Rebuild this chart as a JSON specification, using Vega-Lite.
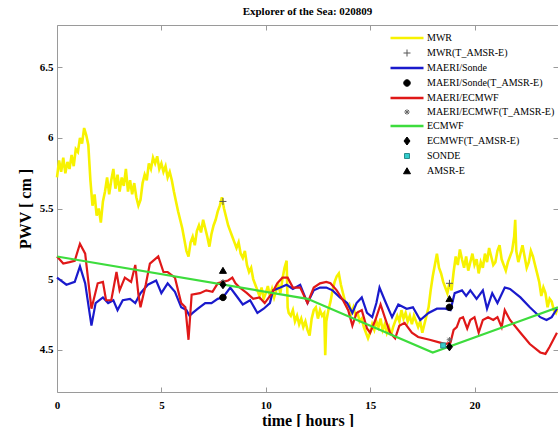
{
"$schema": "https://vega.github.io/schema/vega-lite/v6.json",
"width": 501,
"height": 367,
"autosize": {"type": "none"},
"padding": {"left": 57, "top": 25, "right": 0, "bottom": 35},
"background": "white",
"title": {"text": "Explorer of the Sea: 020809", "font": "Liberation Serif", "fontSize": 11, "fontWeight": "bold", "color": "#000", "offset": 8, "anchor": "middle", "frame": "group"},
"config": {
  "view": {"stroke": null},
  "legend": {"padding": 0, "symbolSize": 100, "labelFont": "Liberation Serif", "labelFontSize": 10, "labelColor": "#000", "labelOffset": 15, "rowPadding": 4, "labelLimit": 200}
},
"data": {"values": [
{"s":"MWR","t":0.0,"v":5.72},{"s":"MWR","t":0.1,"v":5.84},{"s":"MWR","t":0.2,"v":5.76},{"s":"MWR","t":0.3,"v":5.86},{"s":"MWR","t":0.4,"v":5.75},{"s":"MWR","t":0.5,"v":5.83},{"s":"MWR","t":0.6,"v":5.78},{"s":"MWR","t":0.7,"v":5.88},{"s":"MWR","t":0.8,"v":5.8},{"s":"MWR","t":0.9,"v":5.92},
{"s":"MWR","t":1.0,"v":5.9},{"s":"MWR","t":1.1,"v":6.0},{"s":"MWR","t":1.2,"v":5.96},{"s":"MWR","t":1.3,"v":6.07},{"s":"MWR","t":1.4,"v":6.02},{"s":"MWR","t":1.5,"v":5.95},{"s":"MWR","t":1.6,"v":5.7},{"s":"MWR","t":1.7,"v":5.52},{"s":"MWR","t":1.8,"v":5.6},{"s":"MWR","t":1.9,"v":5.45},
{"s":"MWR","t":2.0,"v":5.5},{"s":"MWR","t":2.1,"v":5.4},{"s":"MWR","t":2.2,"v":5.55},{"s":"MWR","t":2.3,"v":5.62},{"s":"MWR","t":2.4,"v":5.72},{"s":"MWR","t":2.5,"v":5.6},{"s":"MWR","t":2.6,"v":5.7},{"s":"MWR","t":2.7,"v":5.78},{"s":"MWR","t":2.8,"v":5.64},{"s":"MWR","t":2.9,"v":5.74},
{"s":"MWR","t":3.0,"v":5.62},{"s":"MWR","t":3.1,"v":5.72},{"s":"MWR","t":3.2,"v":5.66},{"s":"MWR","t":3.3,"v":5.78},{"s":"MWR","t":3.4,"v":5.62},{"s":"MWR","t":3.5,"v":5.7},{"s":"MWR","t":3.6,"v":5.6},{"s":"MWR","t":3.7,"v":5.68},{"s":"MWR","t":3.8,"v":5.58},{"s":"MWR","t":3.9,"v":5.52},
{"s":"MWR","t":4.0,"v":5.56},{"s":"MWR","t":4.1,"v":5.68},{"s":"MWR","t":4.2,"v":5.74},{"s":"MWR","t":4.3,"v":5.7},{"s":"MWR","t":4.4,"v":5.82},{"s":"MWR","t":4.5,"v":5.78},{"s":"MWR","t":4.6,"v":5.86},{"s":"MWR","t":4.7,"v":5.82},{"s":"MWR","t":4.8,"v":5.87},{"s":"MWR","t":4.9,"v":5.78},
{"s":"MWR","t":5.0,"v":5.82},{"s":"MWR","t":5.1,"v":5.76},{"s":"MWR","t":5.2,"v":5.8},{"s":"MWR","t":5.3,"v":5.72},{"s":"MWR","t":5.4,"v":5.76},{"s":"MWR","t":5.5,"v":5.7},{"s":"MWR","t":5.6,"v":5.62},{"s":"MWR","t":5.7,"v":5.55},{"s":"MWR","t":5.8,"v":5.48},{"s":"MWR","t":5.9,"v":5.42},
{"s":"MWR","t":6.0,"v":5.36},{"s":"MWR","t":6.1,"v":5.28},{"s":"MWR","t":6.2,"v":5.2},{"s":"MWR","t":6.3,"v":5.16},{"s":"MWR","t":6.4,"v":5.26},{"s":"MWR","t":6.5,"v":5.3},{"s":"MWR","t":6.6,"v":5.24},{"s":"MWR","t":6.7,"v":5.34},{"s":"MWR","t":6.8,"v":5.38},{"s":"MWR","t":6.9,"v":5.33},
{"s":"MWR","t":7.0,"v":5.42},{"s":"MWR","t":7.1,"v":5.36},{"s":"MWR","t":7.2,"v":5.3},{"s":"MWR","t":7.3,"v":5.23},{"s":"MWR","t":7.4,"v":5.32},{"s":"MWR","t":7.5,"v":5.38},{"s":"MWR","t":7.6,"v":5.42},{"s":"MWR","t":7.7,"v":5.48},{"s":"MWR","t":7.8,"v":5.52},{"s":"MWR","t":7.9,"v":5.58},
{"s":"MWR","t":8.0,"v":5.5},{"s":"MWR","t":8.1,"v":5.44},{"s":"MWR","t":8.2,"v":5.38},{"s":"MWR","t":8.3,"v":5.34},{"s":"MWR","t":8.4,"v":5.3},{"s":"MWR","t":8.5,"v":5.26},{"s":"MWR","t":8.6,"v":5.22},{"s":"MWR","t":8.7,"v":5.26},{"s":"MWR","t":8.8,"v":5.18},{"s":"MWR","t":8.9,"v":5.15},
{"s":"MWR","t":9.0,"v":5.2},{"s":"MWR","t":9.1,"v":5.1},{"s":"MWR","t":9.2,"v":5.05},{"s":"MWR","t":9.3,"v":5.08},{"s":"MWR","t":9.4,"v":5.0},{"s":"MWR","t":9.5,"v":4.96},{"s":"MWR","t":9.6,"v":4.92},{"s":"MWR","t":9.7,"v":4.88},{"s":"MWR","t":9.8,"v":4.94},{"s":"MWR","t":9.9,"v":4.86},
{"s":"MWR","t":10.0,"v":4.9},{"s":"MWR","t":10.1,"v":4.95},{"s":"MWR","t":10.2,"v":4.88},{"s":"MWR","t":10.3,"v":4.93},{"s":"MWR","t":10.4,"v":4.87},{"s":"MWR","t":10.5,"v":4.92},{"s":"MWR","t":10.6,"v":4.96},{"s":"MWR","t":10.7,"v":4.9},{"s":"MWR","t":10.8,"v":5.0},{"s":"MWR","t":10.9,"v":5.08},
{"s":"MWR","t":11.0,"v":5.13},{"s":"MWR","t":11.05,"v":4.8},{"s":"MWR","t":11.1,"v":4.76},{"s":"MWR","t":11.2,"v":4.74},{"s":"MWR","t":11.3,"v":4.78},{"s":"MWR","t":11.4,"v":4.7},{"s":"MWR","t":11.5,"v":4.74},{"s":"MWR","t":11.6,"v":4.68},{"s":"MWR","t":11.7,"v":4.72},{"s":"MWR","t":11.8,"v":4.66},{"s":"MWR","t":11.9,"v":4.7},
{"s":"MWR","t":12.0,"v":4.64},{"s":"MWR","t":12.1,"v":4.6},{"s":"MWR","t":12.2,"v":4.72},{"s":"MWR","t":12.3,"v":4.78},{"s":"MWR","t":12.4,"v":4.8},{"s":"MWR","t":12.5,"v":4.72},{"s":"MWR","t":12.6,"v":4.78},{"s":"MWR","t":12.7,"v":4.74},{"s":"MWR","t":12.8,"v":4.76},{"s":"MWR","t":12.85,"v":4.46},{"s":"MWR","t":12.9,"v":4.7},
{"s":"MWR","t":13.0,"v":4.78},{"s":"MWR","t":13.1,"v":4.84},{"s":"MWR","t":13.2,"v":4.92},{"s":"MWR","t":13.3,"v":4.98},{"s":"MWR","t":13.4,"v":5.02},{"s":"MWR","t":13.5,"v":5.04},{"s":"MWR","t":13.6,"v":4.96},{"s":"MWR","t":13.7,"v":4.9},{"s":"MWR","t":13.8,"v":4.84},{"s":"MWR","t":13.9,"v":4.8},
{"s":"MWR","t":14.0,"v":4.82},{"s":"MWR","t":14.1,"v":4.76},{"s":"MWR","t":14.2,"v":4.8},{"s":"MWR","t":14.3,"v":4.74},{"s":"MWR","t":14.4,"v":4.76},{"s":"MWR","t":14.5,"v":4.7},{"s":"MWR","t":14.6,"v":4.72},{"s":"MWR","t":14.7,"v":4.66},{"s":"MWR","t":14.8,"v":4.62},{"s":"MWR","t":14.9,"v":4.58},
{"s":"MWR","t":15.0,"v":4.62},{"s":"MWR","t":15.1,"v":4.68},{"s":"MWR","t":15.2,"v":4.64},{"s":"MWR","t":15.3,"v":4.7},{"s":"MWR","t":15.4,"v":4.66},{"s":"MWR","t":15.5,"v":4.72},{"s":"MWR","t":15.6,"v":4.64},{"s":"MWR","t":15.7,"v":4.68},{"s":"MWR","t":15.8,"v":4.62},{"s":"MWR","t":15.9,"v":4.66},
{"s":"MWR","t":16.0,"v":4.6},{"s":"MWR","t":16.1,"v":4.66},{"s":"MWR","t":16.2,"v":4.7},{"s":"MWR","t":16.3,"v":4.74},{"s":"MWR","t":16.4,"v":4.7},{"s":"MWR","t":16.5,"v":4.78},{"s":"MWR","t":16.6,"v":4.72},{"s":"MWR","t":16.7,"v":4.76},{"s":"MWR","t":16.8,"v":4.7},{"s":"MWR","t":16.9,"v":4.74},
{"s":"MWR","t":17.0,"v":4.68},{"s":"MWR","t":17.1,"v":4.74},{"s":"MWR","t":17.2,"v":4.7},{"s":"MWR","t":17.3,"v":4.66},{"s":"MWR","t":17.4,"v":4.7},{"s":"MWR","t":17.5,"v":4.62},{"s":"MWR","t":17.6,"v":4.68},{"s":"MWR","t":17.7,"v":4.74},{"s":"MWR","t":17.8,"v":4.8},{"s":"MWR","t":17.9,"v":4.92},
{"s":"MWR","t":18.0,"v":5.02},{"s":"MWR","t":18.1,"v":5.1},{"s":"MWR","t":18.2,"v":5.18},{"s":"MWR","t":18.3,"v":5.08},{"s":"MWR","t":18.4,"v":5.04},{"s":"MWR","t":18.5,"v":4.98},{"s":"MWR","t":18.6,"v":4.94},{"s":"MWR","t":18.7,"v":4.9},{"s":"MWR","t":18.8,"v":4.97},{"s":"MWR","t":18.9,"v":4.92},
{"s":"MWR","t":19.0,"v":5.05},{"s":"MWR","t":19.1,"v":5.16},{"s":"MWR","t":19.2,"v":5.1},{"s":"MWR","t":19.3,"v":5.21},{"s":"MWR","t":19.4,"v":5.14},{"s":"MWR","t":19.5,"v":5.08},{"s":"MWR","t":19.6,"v":5.16},{"s":"MWR","t":19.7,"v":5.06},{"s":"MWR","t":19.8,"v":5.12},{"s":"MWR","t":19.9,"v":5.18},
{"s":"MWR","t":20.0,"v":5.1},{"s":"MWR","t":20.1,"v":5.14},{"s":"MWR","t":20.2,"v":5.04},{"s":"MWR","t":20.3,"v":5.12},{"s":"MWR","t":20.4,"v":5.08},{"s":"MWR","t":20.5,"v":5.18},{"s":"MWR","t":20.6,"v":5.12},{"s":"MWR","t":20.7,"v":5.22},{"s":"MWR","t":20.8,"v":5.16},{"s":"MWR","t":20.9,"v":5.1},
{"s":"MWR","t":21.0,"v":5.12},{"s":"MWR","t":21.1,"v":5.2},{"s":"MWR","t":21.2,"v":5.24},{"s":"MWR","t":21.3,"v":5.14},{"s":"MWR","t":21.4,"v":5.1},{"s":"MWR","t":21.5,"v":5.06},{"s":"MWR","t":21.6,"v":5.12},{"s":"MWR","t":21.7,"v":5.16},{"s":"MWR","t":21.8,"v":5.2},{"s":"MWR","t":21.9,"v":5.3},
{"s":"MWR","t":21.95,"v":5.42},{"s":"MWR","t":22.0,"v":5.2},{"s":"MWR","t":22.1,"v":5.12},{"s":"MWR","t":22.2,"v":5.18},{"s":"MWR","t":22.3,"v":5.24},{"s":"MWR","t":22.4,"v":5.16},{"s":"MWR","t":22.5,"v":5.08},{"s":"MWR","t":22.6,"v":5.12},{"s":"MWR","t":22.7,"v":5.2},{"s":"MWR","t":22.8,"v":5.16},{"s":"MWR","t":22.9,"v":5.1},
{"s":"MWR","t":23.0,"v":5.04},{"s":"MWR","t":23.1,"v":4.98},{"s":"MWR","t":23.2,"v":4.88},{"s":"MWR","t":23.3,"v":4.94},{"s":"MWR","t":23.4,"v":4.9},{"s":"MWR","t":23.5,"v":4.8},{"s":"MWR","t":23.6,"v":4.86},{"s":"MWR","t":23.7,"v":4.84},{"s":"MWR","t":23.8,"v":4.78},{"s":"MWR","t":23.9,"v":4.76},{"s":"MWR","t":24.0,"v":4.8},

{"s":"MAERI/Sonde","t":0.0,"v":5.01},{"s":"MAERI/Sonde","t":0.45,"v":4.96},{"s":"MAERI/Sonde","t":0.85,"v":4.98},{"s":"MAERI/Sonde","t":1.1,"v":5.09},{"s":"MAERI/Sonde","t":1.35,"v":4.97},{"s":"MAERI/Sonde","t":1.65,"v":4.67},{"s":"MAERI/Sonde","t":1.85,"v":4.83},{"s":"MAERI/Sonde","t":2.2,"v":4.87},{"s":"MAERI/Sonde","t":2.45,"v":4.83},{"s":"MAERI/Sonde","t":2.7,"v":4.85},
{"s":"MAERI/Sonde","t":2.9,"v":4.78},{"s":"MAERI/Sonde","t":3.15,"v":4.85},{"s":"MAERI/Sonde","t":3.5,"v":4.86},{"s":"MAERI/Sonde","t":3.75,"v":4.83},{"s":"MAERI/Sonde","t":4.0,"v":4.9},{"s":"MAERI/Sonde","t":4.35,"v":4.96},{"s":"MAERI/Sonde","t":4.75,"v":4.99},{"s":"MAERI/Sonde","t":5.0,"v":4.9},{"s":"MAERI/Sonde","t":5.3,"v":4.97},{"s":"MAERI/Sonde","t":5.65,"v":4.91},
{"s":"MAERI/Sonde","t":5.95,"v":4.8},{"s":"MAERI/Sonde","t":6.2,"v":4.78},{"s":"MAERI/Sonde","t":6.35,"v":4.74},{"s":"MAERI/Sonde","t":6.5,"v":4.76},{"s":"MAERI/Sonde","t":6.75,"v":4.79},{"s":"MAERI/Sonde","t":7.1,"v":4.83},{"s":"MAERI/Sonde","t":7.4,"v":4.83},{"s":"MAERI/Sonde","t":7.7,"v":4.86},{"s":"MAERI/Sonde","t":7.95,"v":4.87},{"s":"MAERI/Sonde","t":8.3,"v":4.94},
{"s":"MAERI/Sonde","t":8.6,"v":4.88},{"s":"MAERI/Sonde","t":8.9,"v":4.82},{"s":"MAERI/Sonde","t":9.25,"v":4.85},{"s":"MAERI/Sonde","t":9.6,"v":4.76},{"s":"MAERI/Sonde","t":9.9,"v":4.79},{"s":"MAERI/Sonde","t":10.2,"v":4.83},{"s":"MAERI/Sonde","t":10.35,"v":4.92},{"s":"MAERI/Sonde","t":10.7,"v":4.94},{"s":"MAERI/Sonde","t":11.0,"v":4.96},{"s":"MAERI/Sonde","t":11.3,"v":4.93},
{"s":"MAERI/Sonde","t":11.65,"v":4.96},{"s":"MAERI/Sonde","t":12.0,"v":4.83},{"s":"MAERI/Sonde","t":12.3,"v":4.92},{"s":"MAERI/Sonde","t":12.6,"v":4.94},{"s":"MAERI/Sonde","t":12.9,"v":4.94},{"s":"MAERI/Sonde","t":13.2,"v":4.92},{"s":"MAERI/Sonde","t":13.55,"v":4.87},{"s":"MAERI/Sonde","t":13.9,"v":4.83},{"s":"MAERI/Sonde","t":14.15,"v":4.76},{"s":"MAERI/Sonde","t":14.35,"v":4.83},
{"s":"MAERI/Sonde","t":14.6,"v":4.87},{"s":"MAERI/Sonde","t":14.85,"v":4.76},{"s":"MAERI/Sonde","t":15.1,"v":4.73},{"s":"MAERI/Sonde","t":15.3,"v":4.83},{"s":"MAERI/Sonde","t":15.45,"v":4.94},{"s":"MAERI/Sonde","t":15.7,"v":4.85},{"s":"MAERI/Sonde","t":16.05,"v":4.73},{"s":"MAERI/Sonde","t":16.35,"v":4.82},{"s":"MAERI/Sonde","t":16.75,"v":4.79},{"s":"MAERI/Sonde","t":17.05,"v":4.8},
{"s":"MAERI/Sonde","t":17.4,"v":4.71},{"s":"MAERI/Sonde","t":17.8,"v":4.76},{"s":"MAERI/Sonde","t":18.2,"v":4.79},{"s":"MAERI/Sonde","t":18.6,"v":4.79},{"s":"MAERI/Sonde","t":18.85,"v":4.78},{"s":"MAERI/Sonde","t":19.05,"v":4.9},{"s":"MAERI/Sonde","t":19.4,"v":4.92},{"s":"MAERI/Sonde","t":19.6,"v":4.88},{"s":"MAERI/Sonde","t":19.8,"v":4.92},{"s":"MAERI/Sonde","t":20.1,"v":4.86},
{"s":"MAERI/Sonde","t":20.4,"v":4.92},{"s":"MAERI/Sonde","t":20.6,"v":4.79},{"s":"MAERI/Sonde","t":20.85,"v":4.9},{"s":"MAERI/Sonde","t":21.1,"v":4.83},{"s":"MAERI/Sonde","t":21.45,"v":4.94},{"s":"MAERI/Sonde","t":21.7,"v":4.93},{"s":"MAERI/Sonde","t":22.2,"v":4.87},{"s":"MAERI/Sonde","t":22.65,"v":4.8},{"s":"MAERI/Sonde","t":23.15,"v":4.73},{"s":"MAERI/Sonde","t":23.45,"v":4.71},
{"s":"MAERI/Sonde","t":23.7,"v":4.73},{"s":"MAERI/Sonde","t":23.95,"v":4.79},

{"s":"MAERI/ECMWF","t":0.0,"v":5.16},{"s":"MAERI/ECMWF","t":0.3,"v":5.11},{"s":"MAERI/ECMWF","t":0.6,"v":5.12},{"s":"MAERI/ECMWF","t":0.85,"v":5.13},{"s":"MAERI/ECMWF","t":1.1,"v":5.25},{"s":"MAERI/ECMWF","t":1.35,"v":5.18},{"s":"MAERI/ECMWF","t":1.65,"v":4.79},{"s":"MAERI/ECMWF","t":1.95,"v":4.97},{"s":"MAERI/ECMWF","t":2.2,"v":4.98},{"s":"MAERI/ECMWF","t":2.35,"v":4.85},
{"s":"MAERI/ECMWF","t":2.6,"v":4.85},{"s":"MAERI/ECMWF","t":2.85,"v":5.05},{"s":"MAERI/ECMWF","t":3.0,"v":4.92},{"s":"MAERI/ECMWF","t":3.25,"v":5.01},{"s":"MAERI/ECMWF","t":3.55,"v":4.98},{"s":"MAERI/ECMWF","t":3.75,"v":5.1},{"s":"MAERI/ECMWF","t":3.9,"v":4.89},{"s":"MAERI/ECMWF","t":4.0,"v":4.8},{"s":"MAERI/ECMWF","t":4.25,"v":4.96},{"s":"MAERI/ECMWF","t":4.45,"v":5.11},
{"s":"MAERI/ECMWF","t":4.85,"v":5.16},{"s":"MAERI/ECMWF","t":5.1,"v":5.05},{"s":"MAERI/ECMWF","t":5.3,"v":5.05},{"s":"MAERI/ECMWF","t":5.65,"v":5.01},{"s":"MAERI/ECMWF","t":5.95,"v":4.83},{"s":"MAERI/ECMWF","t":6.15,"v":4.8},{"s":"MAERI/ECMWF","t":6.3,"v":4.57},{"s":"MAERI/ECMWF","t":6.45,"v":4.89},{"s":"MAERI/ECMWF","t":6.85,"v":4.9},{"s":"MAERI/ECMWF","t":7.15,"v":4.92},
{"s":"MAERI/ECMWF","t":7.45,"v":4.91},{"s":"MAERI/ECMWF","t":7.7,"v":4.97},{"s":"MAERI/ECMWF","t":7.95,"v":4.98},{"s":"MAERI/ECMWF","t":8.2,"v":4.99},{"s":"MAERI/ECMWF","t":8.4,"v":5.01},{"s":"MAERI/ECMWF","t":8.55,"v":4.97},{"s":"MAERI/ECMWF","t":8.75,"v":4.94},{"s":"MAERI/ECMWF","t":9.1,"v":4.9},{"s":"MAERI/ECMWF","t":9.4,"v":4.86},{"s":"MAERI/ECMWF","t":9.7,"v":4.87},
{"s":"MAERI/ECMWF","t":9.95,"v":4.83},{"s":"MAERI/ECMWF","t":10.3,"v":4.9},{"s":"MAERI/ECMWF","t":10.55,"v":4.97},{"s":"MAERI/ECMWF","t":10.8,"v":5.01},{"s":"MAERI/ECMWF","t":11.05,"v":5.01},{"s":"MAERI/ECMWF","t":11.3,"v":4.94},{"s":"MAERI/ECMWF","t":11.65,"v":4.94},{"s":"MAERI/ECMWF","t":12.0,"v":4.83},{"s":"MAERI/ECMWF","t":12.3,"v":4.94},{"s":"MAERI/ECMWF","t":12.6,"v":4.97},
{"s":"MAERI/ECMWF","t":12.9,"v":4.98},{"s":"MAERI/ECMWF","t":13.1,"v":4.97},{"s":"MAERI/ECMWF","t":13.4,"v":4.92},{"s":"MAERI/ECMWF","t":13.7,"v":4.85},{"s":"MAERI/ECMWF","t":13.95,"v":4.78},{"s":"MAERI/ECMWF","t":14.15,"v":4.67},{"s":"MAERI/ECMWF","t":14.35,"v":4.76},{"s":"MAERI/ECMWF","t":14.6,"v":4.78},{"s":"MAERI/ECMWF","t":14.85,"v":4.65},{"s":"MAERI/ECMWF","t":15.0,"v":4.62},
{"s":"MAERI/ECMWF","t":15.25,"v":4.71},{"s":"MAERI/ECMWF","t":15.5,"v":4.82},{"s":"MAERI/ECMWF","t":15.7,"v":4.73},{"s":"MAERI/ECMWF","t":15.95,"v":4.62},{"s":"MAERI/ECMWF","t":16.2,"v":4.58},{"s":"MAERI/ECMWF","t":16.4,"v":4.67},{"s":"MAERI/ECMWF","t":16.65,"v":4.69},{"s":"MAERI/ECMWF","t":17.0,"v":4.62},{"s":"MAERI/ECMWF","t":17.3,"v":4.59},{"s":"MAERI/ECMWF","t":17.85,"v":4.57},
{"s":"MAERI/ECMWF","t":18.35,"v":4.55},{"s":"MAERI/ECMWF","t":18.6,"v":4.54},{"s":"MAERI/ECMWF","t":18.85,"v":4.55},{"s":"MAERI/ECMWF","t":19.0,"v":4.64},{"s":"MAERI/ECMWF","t":19.15,"v":4.66},{"s":"MAERI/ECMWF","t":19.3,"v":4.72},{"s":"MAERI/ECMWF","t":19.45,"v":4.73},{"s":"MAERI/ECMWF","t":19.65,"v":4.65},{"s":"MAERI/ECMWF","t":19.8,"v":4.71},{"s":"MAERI/ECMWF","t":20.0,"v":4.73},
{"s":"MAERI/ECMWF","t":20.2,"v":4.62},{"s":"MAERI/ECMWF","t":20.4,"v":4.71},{"s":"MAERI/ECMWF","t":20.65,"v":4.73},{"s":"MAERI/ECMWF","t":20.9,"v":4.71},{"s":"MAERI/ECMWF","t":21.1,"v":4.73},{"s":"MAERI/ECMWF","t":21.3,"v":4.66},{"s":"MAERI/ECMWF","t":21.45,"v":4.78},{"s":"MAERI/ECMWF","t":21.7,"v":4.71},{"s":"MAERI/ECMWF","t":22.2,"v":4.62},{"s":"MAERI/ECMWF","t":22.65,"v":4.54},
{"s":"MAERI/ECMWF","t":23.15,"v":4.48},{"s":"MAERI/ECMWF","t":23.4,"v":4.47},{"s":"MAERI/ECMWF","t":23.6,"v":4.52},{"s":"MAERI/ECMWF","t":23.95,"v":4.62},

{"s":"ECMWF","t":0,"v":5.16},{"s":"ECMWF","t":12,"v":4.86},{"s":"ECMWF","t":18,"v":4.48},{"s":"ECMWF","t":24,"v":4.8},

{"s":"MWR(T_AMSR-E)","t":7.95,"v":5.55},{"s":"MWR(T_AMSR-E)","t":18.8,"v":4.97},
{"s":"MAERI/Sonde(T_AMSR-E)","t":7.95,"v":4.87},{"s":"MAERI/Sonde(T_AMSR-E)","t":18.8,"v":4.8},
{"s":"MAERI/ECMWF(T_AMSR-E)","t":7.95,"v":4.98},{"s":"MAERI/ECMWF(T_AMSR-E)","t":18.8,"v":4.57},
{"s":"ECMWF(T_AMSR-E)","t":7.95,"v":4.96},{"s":"ECMWF(T_AMSR-E)","t":18.8,"v":4.52},
{"s":"SONDE","t":18.5,"v":4.53},
{"s":"AMSR-E","t":7.95,"v":5.06},{"s":"AMSR-E","t":18.8,"v":4.86}
]},
"layer": [
{
  "transform": [{"filter": {"field": "s", "equal": "MWR"}}],
  "mark": {"type": "line", "strokeWidth": 2.6},
  "encoding": {
    "x": {"field": "t", "type": "quantitative", "scale": {"domain": [0, 24], "nice": false, "zero": false},
      "axis": {"orient": "bottom", "values": [0, 5, 10, 15, 20], "tickSize": -5, "labelPadding": 12, "grid": false, "domainColor": "#9a9a9a", "tickColor": "#9a9a9a", "labelFont": "Liberation Serif", "labelFontWeight": "bold", "labelFontSize": 11, "labelColor": "#000", "labelFlush": false, "title": "time [ hours ]", "titleFont": "Liberation Serif", "titleFontWeight": "bold", "titleFontSize": 16, "titleColor": "#000", "titlePadding": 2}},
    "y": {"field": "v", "type": "quantitative", "scale": {"domain": [4.2, 6.8], "nice": false, "zero": false},
      "axis": {"orient": "left", "values": [4.5, 5, 5.5, 6, 6.5], "format": "~f", "tickSize": -5, "labelPadding": 9, "grid": false, "domainColor": "#9a9a9a", "tickColor": "#9a9a9a", "labelFont": "Liberation Serif", "labelFontWeight": "bold", "labelFontSize": 11, "labelColor": "#000", "title": "PWV [ cm ]", "titleFont": "Liberation Serif", "titleFontWeight": "bold", "titleFontSize": 16, "titleColor": "#000", "titlePadding": 6}},
    "color": {"field": "s", "type": "nominal",
      "scale": {"domain": ["MWR", "MWR(T_AMSR-E)", "MAERI/Sonde", "MAERI/Sonde(T_AMSR-E)", "MAERI/ECMWF", "MAERI/ECMWF(T_AMSR-E)", "ECMWF", "ECMWF(T_AMSR-E)", "SONDE", "AMSR-E"],
        "range": ["#f7f200", "#555555", "#1a1acc", "#000000", "#e01818", "#666666", "#3ddc3d", "#000000", "#2a8c8c", "#000000"]},
      "legend": {"orient": "none", "legendX": 345, "legendY": 8, "title": null, "labelFont": "Liberation Serif", "labelFontSize": 10,
        "encode": {"symbols": {"update": {"fill": {"scale": "fill", "field": "value"}, "strokeWidth": {"signal": "indexof(['MWR','MAERI/Sonde','MAERI/ECMWF','ECMWF'], datum.value) >= 0 ? 2.5 : 1"}}}}}}
  }
},
{
  "transform": [{"filter": {"field": "s", "oneOf": ["MAERI/Sonde", "MAERI/ECMWF", "ECMWF"]}}],
  "mark": {"type": "line", "strokeWidth": 2.2},
  "encoding": {
    "x": {"field": "t", "type": "quantitative", "axis": null},
    "y": {"field": "v", "type": "quantitative", "axis": null},
    "color": {"field": "s", "type": "nominal"}
  }
},
{
  "transform": [{"filter": {"field": "s", "oneOf": ["MWR(T_AMSR-E)", "MAERI/Sonde(T_AMSR-E)", "MAERI/ECMWF(T_AMSR-E)", "ECMWF(T_AMSR-E)", "SONDE", "AMSR-E"]}}],
  "mark": {"type": "point", "filled": false, "opacity": 1, "strokeWidth": 1, "size": 100},
  "encoding": {
    "x": {"field": "t", "type": "quantitative",
      "axis": {"orient": "top", "values": [0, 5, 10, 15, 20], "tickSize": -5, "labels": false, "grid": false, "domainColor": "#9a9a9a", "tickColor": "#9a9a9a", "title": null}},
    "y": {"field": "v", "type": "quantitative",
      "axis": {"orient": "right", "values": [4.5, 5, 5.5, 6, 6.5], "tickSize": -5, "labels": false, "grid": false, "domainColor": "#9a9a9a", "tickColor": "#9a9a9a", "title": null}},
    "color": {"field": "s", "type": "nominal"},
    "shape": {"field": "s", "type": "nominal",
      "scale": {"domain": ["MWR", "MWR(T_AMSR-E)", "MAERI/Sonde", "MAERI/Sonde(T_AMSR-E)", "MAERI/ECMWF", "MAERI/ECMWF(T_AMSR-E)", "ECMWF", "ECMWF(T_AMSR-E)", "SONDE", "AMSR-E"],
        "range": ["M-3.3,0H3.3", "M-0.7,0H0.7M0,-0.7V0.7", "M-3.3,0H3.3", "M-0.65,0A0.65,0.65 0 1,0 0.65,0A0.65,0.65 0 1,0 -0.65,0Z", "M-3.3,0H3.3", "M-0.55,0H0.55M0,-0.55V0.55M-0.4,-0.4L0.4,0.4M-0.4,0.4L0.4,-0.4", "M-3.3,0H3.3", "M0,-0.8L0.6,0L0,0.8L-0.6,0Z", "M-0.5,-0.5H0.5V0.5H-0.5Z", "M0,-0.65L0.7,0.55H-0.7Z"]},
      "legend": {"orient": "none", "legendX": 345, "legendY": 8, "title": null, "labelFont": "Liberation Serif", "labelFontSize": 10,
        "encode": {"symbols": {"update": {"fill": {"scale": "fill", "field": "value"}, "strokeWidth": {"signal": "indexof(['MWR','MAERI/Sonde','MAERI/ECMWF','ECMWF'], datum.value) >= 0 ? 2.5 : 1"}}}}}},
    "fill": {"field": "s", "type": "nominal",
      "scale": {"domain": ["MWR", "MWR(T_AMSR-E)", "MAERI/Sonde", "MAERI/Sonde(T_AMSR-E)", "MAERI/ECMWF", "MAERI/ECMWF(T_AMSR-E)", "ECMWF", "ECMWF(T_AMSR-E)", "SONDE", "AMSR-E"],
        "range": ["transparent", "transparent", "transparent", "#000000", "transparent", "transparent", "transparent", "#000000", "#33cccc", "#000000"]},
      "legend": null}
  }
}
],
"resolve": {"axis": {"x": "independent", "y": "independent"}}
}
